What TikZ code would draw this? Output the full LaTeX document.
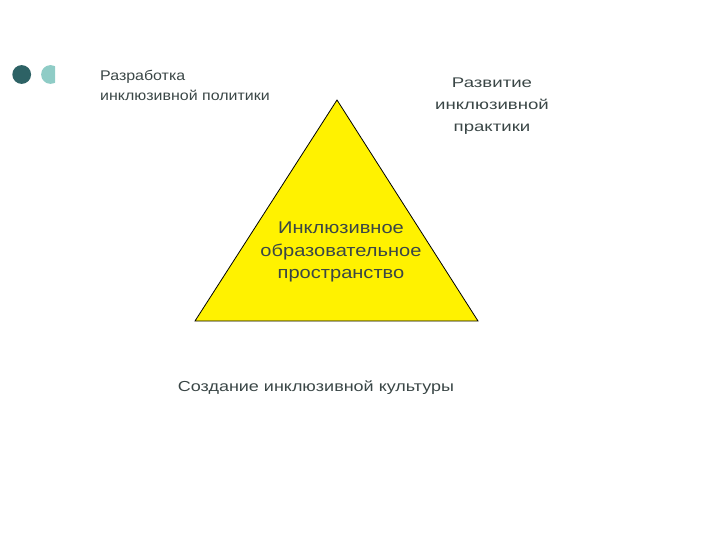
\documentclass[tikz,border=0pt]{standalone}
\usepackage{fontspec}
\setmainfont{Liberation Sans}
\definecolor{dotdark}{HTML}{2D6265}
\definecolor{dotlight}{HTML}{8FCCC6}
\definecolor{txt}{HTML}{3A4646}
\begin{document}
\begin{tikzpicture}[x=1pt,y=-1pt,
  lbl/.style={inner sep=0pt,text=txt,align=center}]
\useasboundingbox (0,0) rectangle (720,540);
% bullets
\fill[dotdark] (21.7,74.5) circle (9.4);
\begin{scope}
  \clip (38,60) rectangle (55,90);
  \fill[dotlight] (50.5,74.5) circle (9.4);
\end{scope}
% triangle
\draw[fill=yellow,line width=0.8pt] (337,100) coordinate (apex) -- (478,321) coordinate (br) -- (195,321) coordinate (bl) -- cycle;
\node[lbl,align=left,anchor=north west,font=\fontsize{14}{20}\selectfont\addfontfeatures{FakeStretch=1.14}] (pol) at (100,70.2) {Разработка\\инклюзивной политики};
\node[lbl,anchor=north,font=\fontsize{14}{22}\selectfont\addfontfeatures{FakeStretch=1.33}] (pra) at (492,77.3) {Развитие\\инклюзивной\\практики};
\node[lbl,anchor=north,font=\fontsize{17}{22.5}\selectfont\addfontfeatures{FakeStretch=1.18}] (space) at (341,221.8) {Инклюзивное\\образовательное\\пространство};
\node[lbl,anchor=north,font=\fontsize{14.5}{20}\selectfont\addfontfeatures{FakeStretch=1.24}] (cul) at (316,380.3) {Создание инклюзивной культуры};
\end{tikzpicture}
\end{document}
